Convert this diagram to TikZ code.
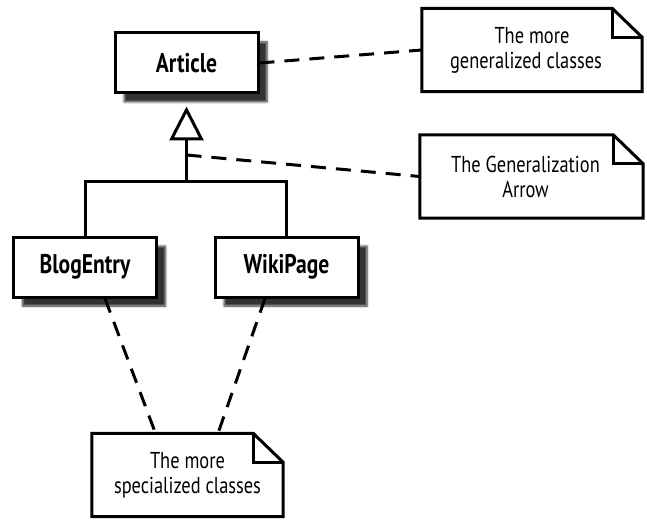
\documentclass[tikz,border=0pt]{standalone}
\usepackage{fontspec}
\setmainfont[FakeStretch=0.8]{PT Sans}
\usepackage{tikz}
\usetikzlibrary{arrows.meta, positioning, shadows.blur}

\begin{document}
\begin{tikzpicture}[
    x=1pt, y=-1pt,
    cls/.style={rectangle, draw, line width=3pt, fill=white, minimum width=143pt, minimum height=60pt, font=\fontsize{27}{29}\selectfont\bfseries,
        blur shadow={shadow xshift=9pt, shadow yshift=-9pt, shadow blur steps=6, shadow opacity=80}},
    note/.style={rectangle, minimum height=83pt, align=center, font=\fontsize{23}{25}\selectfont},
    link/.style={line width=3pt, dash pattern=on 15pt off 10pt},
    gen/.style={line width=3pt, -{Triangle[open, length=34pt, width=34pt, line width=3pt]}}
]
\useasboundingbox (0,0) rectangle (647,521);

% classes
\node[cls] (article) at (186.5,63) {Article};
\node[cls] (blog) at (85,267) {BlogEntry};
\node[cls] (wiki) at (286.5,267) {WikiPage};

% notes
\node[note, minimum width=220pt] (genl) at (532,50) {The more\\generalized classes\hspace*{12pt}};
\node[note, minimum width=223pt] (arrw) at (531.5,176.5) {The Generalization\hspace*{12pt}\\Arrow\hspace*{12pt}};
\node[note, minimum width=191pt] (spec) at (187.5,475) {The more\\specialized classes};

\foreach \n in {genl, arrw, spec} {
  \draw[line width=3pt, line join=miter] (\n.north west) -- ([xshift=-30pt]\n.north east) -- ([yshift=-29pt]\n.north east) -- (\n.south east) -- (\n.south west) -- cycle;
  \draw[line width=3pt] ([xshift=-30pt]\n.north east) |- ([yshift=-29pt]\n.north east);
}

% generalization
\coordinate (junc) at (186.5,182);
\coordinate (tick) at (186.5,155);
\draw[line width=3pt] (blog.north) |- (junc) -| (wiki.north);
\draw[gen, shorten >=12pt] (junc) -- (article.south);

% note links
\draw[link] (article.east) -- (genl.west);
\draw[link] (tick) -- (arrw.west);
\draw[link] ([xshift=20pt]blog.south) -- ([xshift=-32pt]spec.north);
\draw[link] ([xshift=-21.5pt]wiki.south) -- ([xshift=30.5pt]spec.north);
\end{tikzpicture}
\end{document}
